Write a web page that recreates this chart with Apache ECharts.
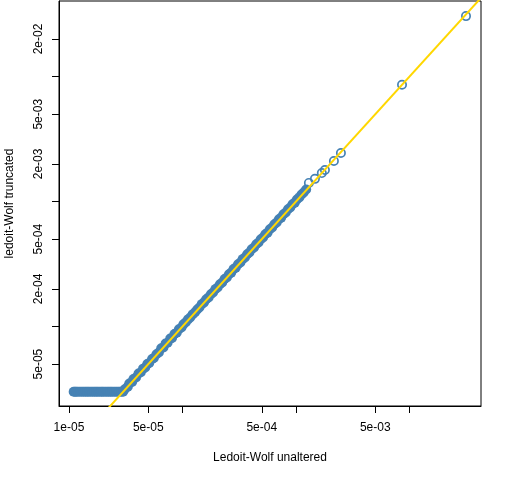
<!DOCTYPE html>
<html>
<head>
<meta charset="utf-8">
<script src="https://cdn.jsdelivr.net/npm/echarts@6/dist/echarts.min.js"></script>
<style>
html, body { margin: 0; padding: 0; background: #fff; }
#main { width: 512px; height: 480px; }
</style>
</head>
<body>
<div id="main"></div>
<script>
// truncation floor: small values are lifted to this level
var floorLevel = 3.0e-5;
// unaltered values that sit on the floor
var floorX = [1.10e-5, 1.13e-5, 1.16e-5, 1.20e-5, 1.25e-5, 1.30e-5, 1.35e-5, 1.40e-5, 1.45e-5, 1.50e-5,
    1.56e-5, 1.62e-5, 1.68e-5, 1.74e-5, 1.80e-5, 1.87e-5, 1.94e-5, 2.00e-5, 2.08e-5, 2.16e-5,
    2.24e-5, 2.32e-5, 2.40e-5, 2.50e-5, 2.60e-5, 2.70e-5, 2.80e-5, 2.90e-5];
// dense band above the floor (unaltered / truncated)
var bandX = [3.0e-5, 3.1e-5, 3.3e-5, 3.4e-5, 3.6e-5, 3.7e-5, 3.9e-5, 4.1e-5, 4.3e-5, 4.5e-5,
    4.7e-5, 4.9e-5, 5.1e-5, 5.4e-5, 5.6e-5, 5.9e-5, 6.2e-5, 6.5e-5, 6.8e-5, 7.1e-5,
    7.4e-5, 7.8e-5, 8.1e-5, 8.5e-5, 8.9e-5, 9.3e-5, 9.8e-5,
    1.02e-4, 1.07e-4, 1.12e-4, 1.17e-4, 1.23e-4, 1.29e-4, 1.35e-4, 1.41e-4, 1.48e-4, 1.55e-4,
    1.62e-4, 1.70e-4, 1.78e-4, 1.86e-4, 1.95e-4, 2.04e-4, 2.14e-4, 2.24e-4, 2.35e-4, 2.46e-4,
    2.57e-4, 2.69e-4, 2.82e-4, 2.95e-4, 3.09e-4, 3.24e-4, 3.39e-4, 3.55e-4, 3.72e-4, 3.89e-4,
    4.07e-4, 4.27e-4, 4.47e-4, 4.68e-4, 4.90e-4, 5.13e-4, 5.37e-4, 5.62e-4, 5.89e-4, 6.17e-4,
    6.46e-4, 6.76e-4, 7.08e-4, 7.41e-4, 7.76e-4, 8.13e-4, 8.51e-4, 8.91e-4, 9.33e-4, 9.77e-4,
    1.02e-3, 1.07e-3, 1.12e-3, 1.17e-3, 1.23e-3];
var bandY = [3.0e-5, 3.15e-5, 3.3e-5, 3.5e-5, 3.6e-5, 3.8e-5, 3.9e-5, 4.2e-5, 4.3e-5, 4.6e-5,
    4.7e-5, 5.0e-5, 5.1e-5, 5.5e-5, 5.6e-5, 6.0e-5, 6.2e-5, 6.7e-5, 6.8e-5, 7.3e-5,
    7.4e-5, 8.0e-5, 8.1e-5, 8.7e-5, 8.9e-5, 9.5e-5, 9.8e-5,
    1.04e-4, 1.08e-4, 1.14e-4, 1.18e-4, 1.25e-4, 1.30e-4, 1.37e-4, 1.42e-4, 1.51e-4, 1.56e-4,
    1.65e-4, 1.71e-4, 1.81e-4, 1.87e-4, 1.99e-4, 2.05e-4, 2.18e-4, 2.25e-4, 2.40e-4, 2.47e-4,
    2.62e-4, 2.70e-4, 2.88e-4, 2.96e-4, 3.15e-4, 3.25e-4, 3.46e-4, 3.57e-4, 3.79e-4, 3.91e-4,
    4.15e-4, 4.29e-4, 4.56e-4, 4.70e-4, 5.00e-4, 5.15e-4, 5.48e-4, 5.64e-4, 6.01e-4, 6.20e-4,
    6.59e-4, 6.79e-4, 7.22e-4, 7.44e-4, 7.92e-4, 8.17e-4, 8.68e-4, 8.95e-4, 9.52e-4, 9.81e-4,
    1.04e-3, 1.08e-3, 1.14e-3, 1.18e-3, 1.25e-3];
// the few large values
var tailX = [1.30e-3, 1.47e-3, 1.69e-3, 1.80e-3, 2.16e-3, 2.49e-3, 8.6e-3, 3.15e-2];
var tailY = [1.41e-3, 1.52e-3, 1.69e-3, 1.79e-3, 2.11e-3, 2.45e-3, 8.6e-3, 3.05e-2];
// y = x reference line
var lineEnds = [1e-6, 1];
// axis ticks
var xTicks = [1e-5, 5e-5, 1e-4, 5e-4, 1e-3, 5e-3, 1e-2];
var xLabels = [1e-5, 5e-5, 5e-4, 5e-3];
var yTicks = [5e-5, 1e-4, 2e-4, 5e-4, 1e-3, 2e-3, 5e-3, 1e-2, 2e-2];
var yLabels = [5e-5, 2e-4, 5e-4, 2e-3, 5e-3, 2e-2];

function sciFmt(v) {
    var s = Number(v).toExponential(0); // e.g. 5e-5
    var parts = s.split('e');
    var exp = parseInt(parts[1], 10);
    var sign = exp < 0 ? '-' : '+';
    var a = Math.abs(exp);
    return parts[0] + 'e' + sign + (a < 10 ? '0' + a : a);
}

var densePts = [];
for (var i = 0; i < floorX.length; i++) densePts.push([floorX[i], floorLevel]);
for (var j = 0; j < bandX.length; j++) densePts.push([bandX[j], bandY[j]]);
var tailPts = [];
for (var k = 0; k < tailX.length; k++) tailPts.push([tailX[k], tailY[k]]);

var chart = echarts.init(document.getElementById('main'), null, { renderer: 'canvas' });
var font = 'Liberation Sans, Arial, sans-serif';
var blue = '#4682B4';
var option = {
    animation: false,
    backgroundColor: '#fff',
    grid: {
        left: 59, right: 31, top: 1, bottom: 74,
        containLabel: false,
        outerBoundsMode: 'none',
        show: true, borderColor: '#000', borderWidth: 1, backgroundColor: 'transparent'
    },
    xAxis: {
        type: 'log',
        logBase: 10,
        min: 8.17e-6,
        max: 4.27e-2,
        name: 'Ledoit-Wolf unaltered',
        nameLocation: 'middle',
        nameGap: 46,
        nameTextStyle: { color: '#000', fontSize: 12, fontFamily: font },
        axisLine: { show: true, lineStyle: { color: '#000', width: 1 } },
        axisTick: { show: true, length: 7, inside: false, customValues: xTicks, lineStyle: { color: '#000' } },
        axisLabel: { show: true, customValues: xLabels, margin: 16, color: '#000', fontSize: 12, fontFamily: font,
            formatter: function (v) { return sciFmt(v); } },
        splitLine: { show: false },
        minorTick: { show: false }
    },
    yAxis: {
        type: 'log',
        logBase: 10,
        min: 2.31e-5,
        max: 4.03e-2,
        name: 'ledoit-Wolf truncated',
        nameLocation: 'middle',
        nameGap: 43,
        nameRotate: 90,
        nameTextStyle: { color: '#000', fontSize: 12, fontFamily: font },
        axisLine: { show: true, lineStyle: { color: '#000', width: 1 } },
        axisTick: { show: true, length: 7, inside: false, customValues: yTicks, lineStyle: { color: '#000' } },
        axisLabel: { show: true, customValues: yLabels, rotate: 90, margin: 14, color: '#000', fontSize: 12, fontFamily: font,
            formatter: function (v) { return sciFmt(v); } },
        splitLine: { show: false },
        minorTick: { show: false }
    },
    series: [{
        // overlapping circles merge into a solid band
        type: 'scatter',
        data: densePts,
        symbol: 'circle',
        symbolSize: 10,
        itemStyle: { color: blue, opacity: 1 },
        emphasis: { disabled: true },
        z: 2
    }, {
        type: 'scatter',
        data: tailPts,
        symbol: 'circle',
        symbolSize: 8.3,
        itemStyle: { color: 'rgba(0,0,0,0)', borderColor: blue, borderWidth: 1.7, opacity: 1 },
        emphasis: { disabled: true },
        z: 2
    }, {
        type: 'line',
        data: [[lineEnds[0], lineEnds[0]], [lineEnds[1], lineEnds[1]]],
        symbol: 'none',
        clip: true,
        lineStyle: { color: '#FFD700', width: 2 },
        emphasis: { disabled: true },
        z: 3
    }]
};
chart.setOption(option);
</script>
</body>
</html>
